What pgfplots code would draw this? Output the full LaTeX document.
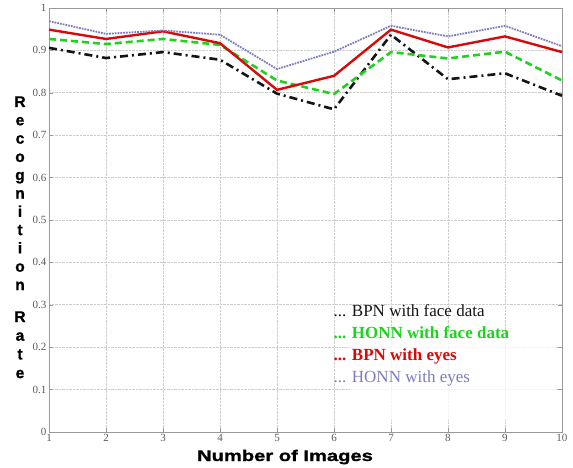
\documentclass[border=0pt]{standalone}
\usepackage{fontspec}
\setmainfont{Liberation Serif}
\newfontfamily\xlblfont[FakeStretch=1.3,FakeBold=1.2]{Liberation Sans Bold}
\newfontfamily\ylblfont[FakeBold=1.2]{Liberation Sans Bold}
\usepackage{pgfplots}
\pgfplotsset{compat=1.18}

\definecolor{bpnface}{RGB}{20,20,20}
\definecolor{honnface}{RGB}{30,210,30}
\definecolor{bpneyes}{RGB}{215,10,10}
\definecolor{honneyes}{RGB}{125,125,190}

\begin{document}
\begin{tikzpicture}[x=1pt,y=1pt]
\useasboundingbox (0,0) rectangle (573,467);
\begin{axis}[
    at={(49pt,35pt)}, anchor=south west,
    scale only axis, width=513pt, height=424pt,
    xmin=1, xmax=10, ymin=0, ymax=1,
    xtick={1,2,...,10},
    ytick={0,0.1,0.2,0.3,0.4,0.5,0.6,0.7,0.8,0.9,1},
    yticklabels={0,0.1,0.2,0.3,0.4,0.5,0.6,0.7,0.8,0.9,1},
    /pgf/number format/assume math mode=true,
    tick label style={font=\fontsize{11}{11}\selectfont, text=black!65},
    xticklabel style={yshift=1pt},
    yticklabel style={xshift=1pt},
    tick align=inside, major tick length=4pt,
    tick style={gray!80, line width=0.6pt},
    axis line style={gray!80, line width=0.8pt},
    grid=major,
    major grid style={gray!40, densely dotted, line width=0.8pt},
    clip=false,
]
% BPN with face data
\addplot[bpnface, line width=2.6pt, dash pattern=on 8pt off 4pt on 2pt off 4pt] coordinates {
    (1,0.906) (2,0.882) (3,0.896) (4,0.878) (5,0.798)
    (6,0.761) (7,0.937) (8,0.832) (9,0.846) (10,0.793)
};
% HONN with face data
\addplot[honnface, line width=2.6pt, dash pattern=on 7pt off 4pt] coordinates {
    (1,0.927) (2,0.915) (3,0.927) (4,0.913) (5,0.829)
    (6,0.797) (7,0.896) (8,0.881) (9,0.897) (10,0.829)
};
% BPN with eyes
\addplot[bpneyes, line width=2.4pt] coordinates {
    (1,0.949) (2,0.927) (3,0.945) (4,0.917) (5,0.807)
    (6,0.840) (7,0.949) (8,0.907) (9,0.933) (10,0.896)
};
% HONN with eyes
\addplot[honneyes, line width=1.8pt, densely dotted] coordinates {
    (1,0.969) (2,0.939) (3,0.947) (4,0.937) (5,0.856)
    (6,0.897) (7,0.958) (8,0.933) (9,0.958) (10,0.910)
};
\end{axis}

% faded box behind the legend
\fill[white, opacity=0.75] (350,47) rectangle (555,135);

% legend text
\node[anchor=base west, text=bpnface, font=\fontsize{17}{17}\selectfont] at (330,151) {... BPN with face data};
\node[anchor=base west, text=honnface, font=\fontsize{17}{17}\selectfont\bfseries] at (330,129) {... HONN with face data};
\node[anchor=base west, text=bpneyes, font=\fontsize{17}{17}\selectfont\bfseries] at (330,107) {... BPN with eyes};
\node[anchor=base west, text=honneyes, font=\fontsize{17}{17}\selectfont] at (330,85) {... HONN with eyes};

% y label, letters stacked
\foreach \l [count=\i] in {R,e,c,o,g,n,i,t,i,o,n}
  \node[anchor=base, inner sep=0pt, font=\ylblfont\fontsize{15.5}{15.5}\selectfont] at (20,{360-(\i-1)*18.3}) {\l};
\foreach \l [count=\i] in {R,a,t,e}
  \node[anchor=base, inner sep=0pt, font=\ylblfont\fontsize{15.5}{15.5}\selectfont] at (20,{145-(\i-1)*18.7}) {\l};

% x label
\node[anchor=base, inner sep=0pt, font=\xlblfont\fontsize{15.5}{15.5}\selectfont] at (285,6) {Number of Images};
\end{tikzpicture}
\end{document}
